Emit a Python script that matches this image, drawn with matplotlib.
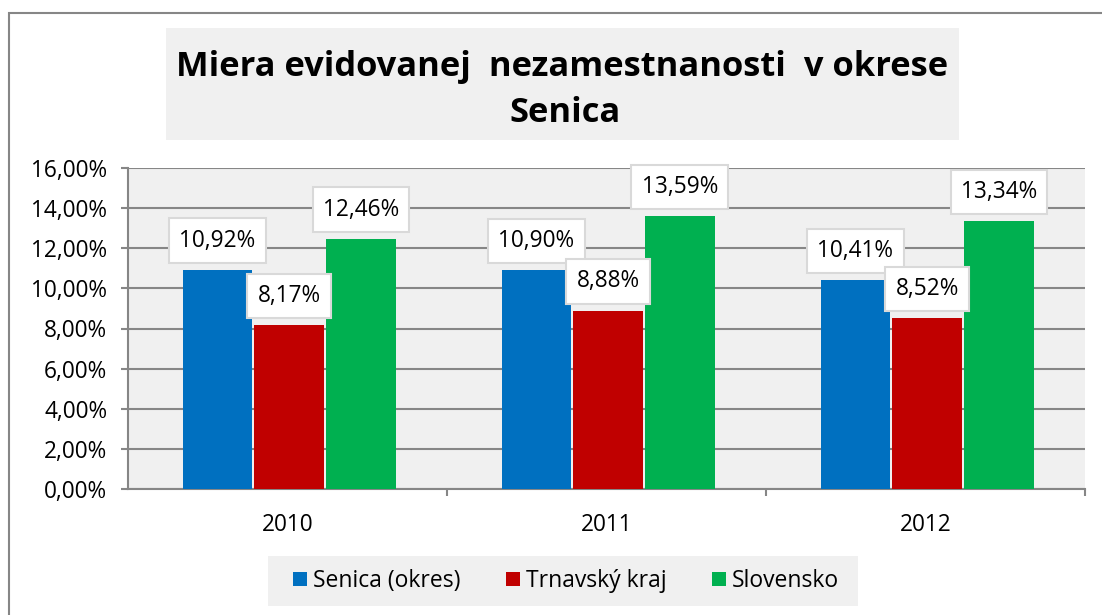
import matplotlib.pyplot as plt
import matplotlib.patches as mpatches
import numpy as np

years = ['2010', '2011', '2012']
series_names = ['Senica (okres)', 'Trnavský kraj', 'Slovensko']
senica = [10.92, 10.90, 10.41]
trnava = [8.17, 8.88, 8.52]
slovensko = [12.46, 13.59, 13.34]
colors = ['#0070c0', '#c00000', '#00b050']
yticks = [0, 2, 4, 6, 8, 10, 12, 14, 16]
title_lines = ['Miera evidovanej  nezamestnanosti  v okrese', 'Senica']

plt.rcParams['font.family'] = ['Open Sans', 'DejaVu Sans']

W, H = 1102, 615
fig = plt.figure(figsize=(W / 100, H / 100), dpi=100)
fig.patch.set_facecolor('white')


def fig_rect(x0, y0, x1, y1, **kw):
    # rectangle given in pixel coords (top-left origin)
    r = mpatches.Rectangle((x0 / W, 1 - y1 / H), (x1 - x0) / W, (y1 - y0) / H,
                           transform=fig.transFigure, **kw)
    fig.patches.append(r)
    return r


# outer frame (right/bottom run off the image like the original)
fig_rect(9, 13, 1130, 640, fill=False, edgecolor='#868686', linewidth=1.5)
# title background + title
fig_rect(166, 28, 959, 140, facecolor='#f0f0f0', edgecolor='none')
fig.text(562 / W, 1 - 67 / H, title_lines[0], ha='center', va='center',
         fontsize=24.8, fontweight='bold')
fig.text(565 / W, 1 - 113 / H, title_lines[1], ha='center', va='center',
         fontsize=24.8, fontweight='bold')
# legend background
fig_rect(268, 556, 858, 606, facecolor='#f0f0f0', edgecolor='none')

ax = fig.add_axes([128 / W, 1 - 489 / H, (1085 - 128) / W, (489 - 168) / H])
ax.set_facecolor('#f0f0f0')

x = np.arange(len(years))
bw = 0.218
data = [senica, trnava, slovensko]
for i, (vals, c, name) in enumerate(zip(data, colors, series_names)):
    pos = x + (i - 1) * (bw + 0.007) + 0.005
    ax.bar(pos, vals, width=bw, color=c, label=name, zorder=3)
    for px, v in zip(pos, vals):
        ax.annotate(f'{v:.2f}%'.replace('.', ','), (px, v), xytext=(0, 12.5),
                    textcoords='offset points', ha='center', va='bottom', fontsize=16.3,
                    zorder=5,
                    bbox=dict(boxstyle='square,pad=0.45', facecolor='white',
                              edgecolor='#d9d9d9', linewidth=1.5))

ax.set_ylim(0, 16)
ax.set_xlim(-0.5, 2.5)
ax.set_yticks(yticks)
ax.set_yticklabels([f'{t:.2f}%'.replace('.', ',') for t in yticks], fontsize=16.3)
ax.yaxis.grid(True, color='#868686', linewidth=1.5, zorder=0)
ax.set_axisbelow(True)

ax.set_xticks(x)
ax.set_xticklabels(years, fontsize=16.3)
ax.tick_params(axis='x', length=0, pad=17)
ax.set_xticks([0.5, 1.5, 2.5], minor=True)
ax.tick_params(axis='x', which='minor', length=5, color='#868686', width=1.5, direction='out')
ax.tick_params(axis='y', length=5, color='#868686', width=1.5, pad=10)

for s in ['top', 'right']:
    ax.spines[s].set_visible(False)
for s in ['left', 'bottom']:
    ax.spines[s].set_color('#868686')
    ax.spines[s].set_linewidth(1.5)

leg = fig.legend(loc='center', bbox_to_anchor=(566 / W, 1 - 581 / H), ncol=3,
                 fontsize=16.5, frameon=False, handlelength=0.6, handleheight=0.6,
                 handletextpad=0.25, columnspacing=2.0, borderpad=0.0)

fig.savefig('out.png', dpi=100)
